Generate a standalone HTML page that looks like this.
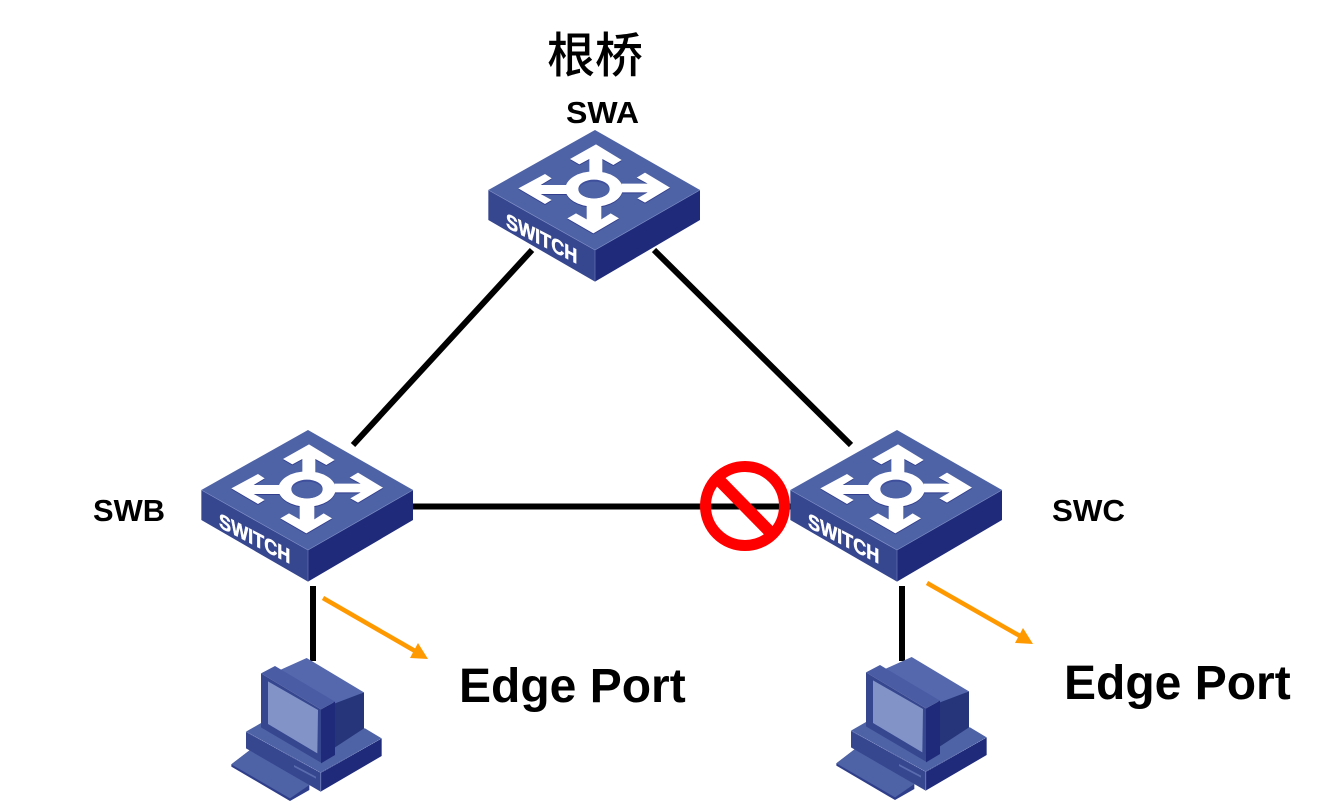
<!DOCTYPE html>
<html>
<head>
<meta charset="utf-8">
<style>
html,body{margin:0;padding:0;background:#fff;width:1339px;height:810px;overflow:hidden}
svg{display:block}
text{font-family:"Liberation Sans","Noto Sans CJK SC",sans-serif;font-weight:bold;fill:#000}
</style>
</head>
<body>
<svg width="1339" height="810" viewBox="0 0 1339 810" xmlns="http://www.w3.org/2000/svg">
<defs>
<g id="arrows">
  <polygon points="378,43 455,90 430,105 397,87 397,130 358,130 358,87 328,103 300,87"/>
  <polygon points="145,175 225,132 245,145 212,165 290,165 290,192 212,192 245,210 225,222"/>
  <polygon points="600,173 525,128 500,143 533,161 455,161 455,187 533,187 502,205 525,218"/>
  <polygon points="370,310 292,265 318,250 350,268 350,220 394,220 394,268 422,250 447,265"/>
  <ellipse cx="372" cy="177" rx="86" ry="53"/>
</g>
<g id="sw">
  <g transform="translate(470,130) scale(0.33333)">
    <polygon points="375,0 690,180 375,360 55,180" fill="#4e62a6"/>
    <polygon points="55,180 375,360 375,455 55,270" fill="#36468f"/>
    <polygon points="375,360 690,180 690,270 375,455" fill="#1f2b7a"/>
    <polyline points="55,180 375,360 690,180" fill="none" stroke="#7f8fc6" stroke-width="2"/>
    <line x1="375" y1="360" x2="375" y2="455" stroke="#6a78b8" stroke-width="2"/>
    <use href="#arrows" transform="translate(0,3)" fill="#333f8c"/>
    <use href="#arrows" fill="#fff"/>
    <ellipse cx="372" cy="177" rx="47" ry="28" fill="#3f4f9c"/>
    <ellipse cx="372" cy="180" rx="46" ry="25" fill="#4e62a6"/>
    <text transform="matrix(1,0.52,0,1,108,291)" font-size="62" textLength="214" lengthAdjust="spacingAndGlyphs" style="fill:#fff;stroke:#fff;stroke-width:1.500">SWITCH</text>
  </g>
</g>
<g id="pc">
  <g transform="translate(220,650) scale(0.33333)">
    <polygon points="34,343 90,300 268,405 268,420 210,453 34,350" fill="#2f3e8a"/>
    <polygon points="34,343 90,300 268,405 210,445" fill="#4e62a6"/>
    <polygon points="78,245 125,218 435,235 485,265 302,368" fill="#4e62a6"/>
    <polygon points="78,245 302,368 302,425 78,295" fill="#36468f"/>
    <polygon points="302,368 485,265 485,318 302,425" fill="#1f2b7a"/>
    <polyline points="78,245 302,368 485,265" fill="none" stroke="#8a98cc" stroke-width="2" stroke-dasharray="4 2"/>
    <line x1="302" y1="368" x2="302" y2="425" stroke="#6a78b8" stroke-width="3"/>
    <polygon points="222,345 288,380 288,386 222,351" fill="#5a6cae"/>
    <polygon points="340,155 432,127 432,235 345,292" fill="#26357a"/>
    <polygon points="180,60 260,24 432,127 345,160" fill="#5568ae"/>
    <polygon points="123,70 165,48 345,155 303,178" fill="#4a5ca4"/>
    <polygon points="123,70 303,178 303,338 123,232" fill="#36468f"/>
    <polygon points="303,178 345,155 345,315 303,340" fill="#1f2b7a"/>
    <polygon points="144,94 294,180 292,310 144,222" fill="#8293c8"/>
  </g>
</g>
</defs>

<!-- connectors -->
<g stroke="#000" stroke-width="6" fill="none">
  <line x1="532" y1="250" x2="353" y2="445"/>
  <line x1="654" y1="250" x2="851" y2="445"/>
  <line x1="413" y1="506.500" x2="792" y2="506.500"/>
  <line x1="313" y1="586" x2="313" y2="661"/>
  <line x1="902" y1="586" x2="902" y2="661"/>
</g>

<!-- devices -->
<use href="#sw"/>
<use href="#sw" transform="translate(-287,300)"/>
<use href="#sw" transform="translate(302,300)"/>
<use href="#pc"/>
<use href="#pc" transform="translate(605,-1)"/>

<!-- blocked sign -->
<circle cx="745" cy="506" r="39.500" fill="none" stroke="#ff0000" stroke-width="11"/>
<line x1="720" y1="481" x2="770" y2="532" stroke="#ff0000" stroke-width="12"/>

<!-- edge port arrows -->
<g stroke="#ff9900" stroke-width="4.500" fill="none">
  <line x1="323" y1="598" x2="415" y2="651"/>
  <line x1="927" y1="583" x2="1020" y2="636"/>
</g>
<polygon points="418,643 428,659 410,658" fill="#ff9900"/>
<polygon points="1023,628 1033,644 1015,643" fill="#ff9900"/>

<!-- labels -->
<text x="547" y="72" font-size="48" style="font-weight:500">根桥</text>
<text x="566" y="123" font-size="31" textLength="73" lengthAdjust="spacingAndGlyphs">SWA</text>
<text x="93" y="521" font-size="31" textLength="72" lengthAdjust="spacingAndGlyphs">SWB</text>
<text x="1052" y="521" font-size="31" textLength="73" lengthAdjust="spacingAndGlyphs">SWC</text>
<text x="459" y="702" font-size="48">Edge Port</text>
<text x="1064" y="699" font-size="48">Edge Port</text>
</svg>
</body>
</html>
